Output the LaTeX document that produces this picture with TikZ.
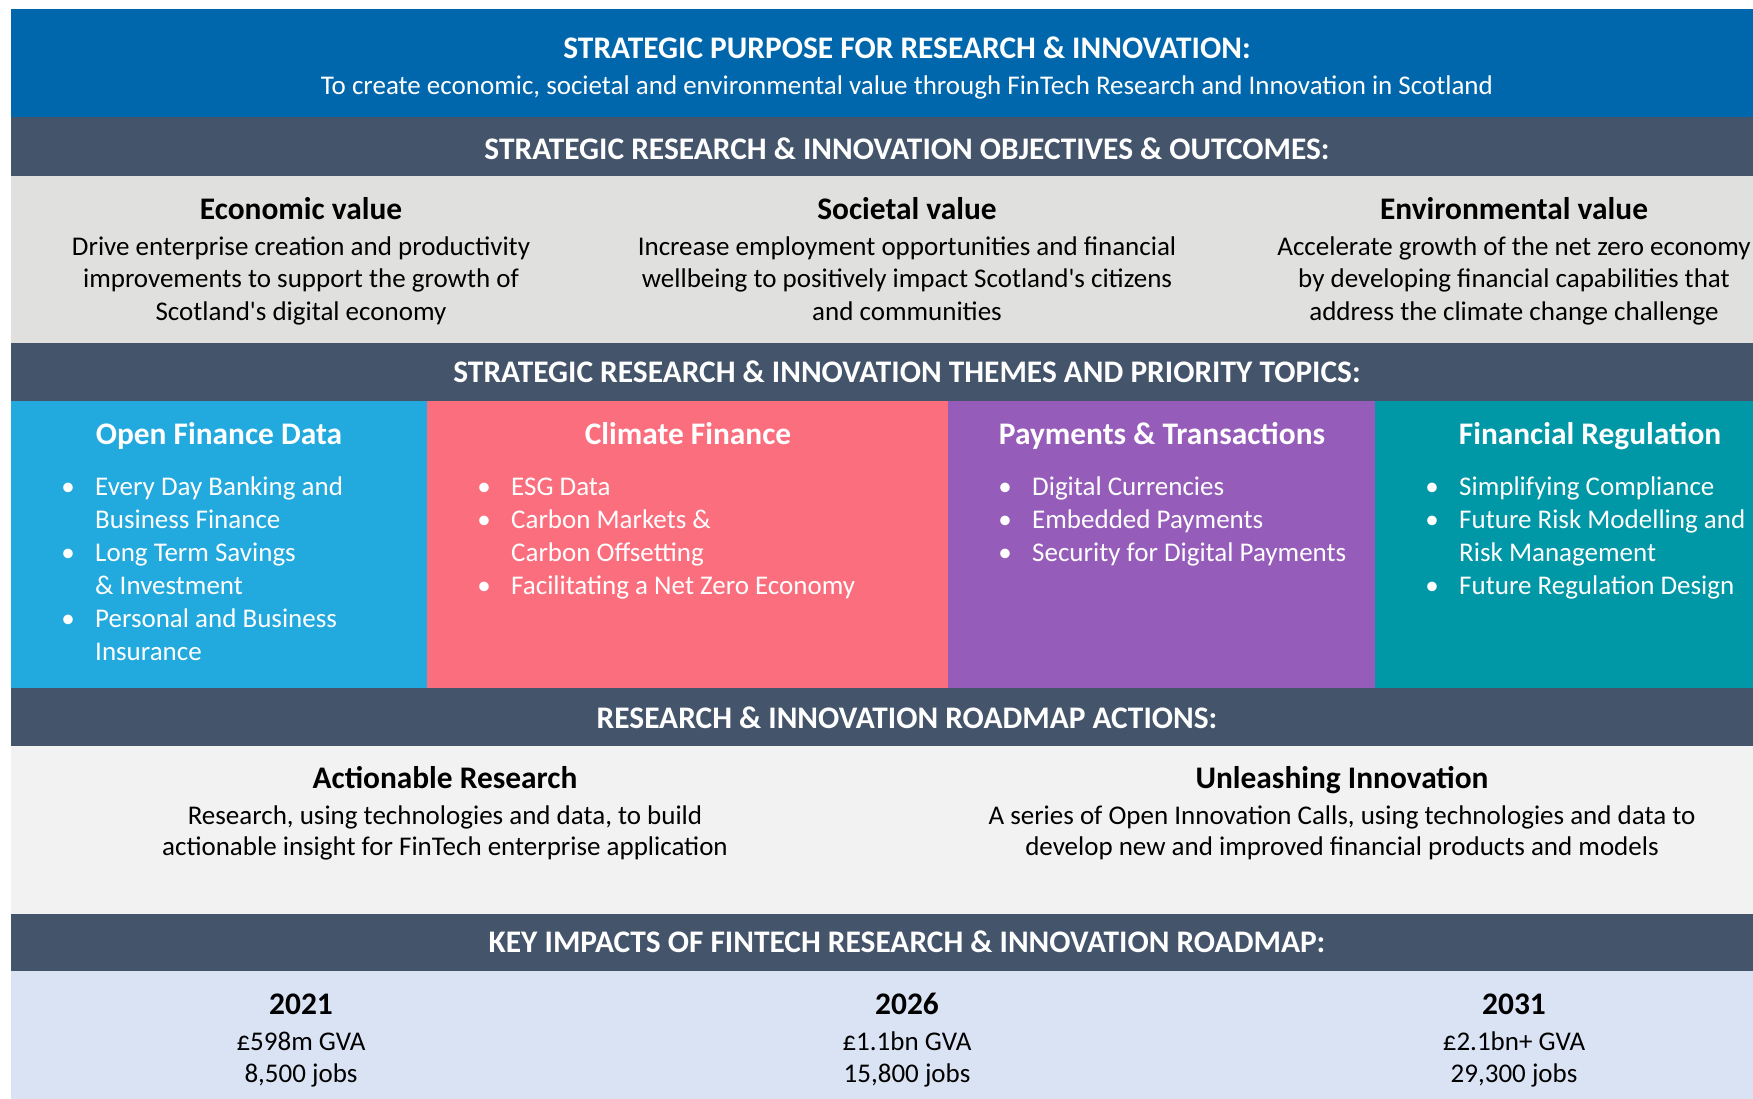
\documentclass[tikz,border=0pt]{standalone}
\usepackage{fontspec}
\setmainfont{Carlito}
\definecolor{purposeblue}{HTML}{0067AD}
\definecolor{bandgray}{HTML}{44546A}
\definecolor{objgray}{HTML}{E0E0DE}
\definecolor{themeblue}{HTML}{22A9DD}
\definecolor{themered}{HTML}{FB6E7D}
\definecolor{themepurple}{HTML}{965CBA}
\definecolor{themeteal}{HTML}{0097A7}
\definecolor{roadgray}{HTML}{F2F2F2}
\definecolor{impactblue}{HTML}{DAE3F3}
\begin{document}
\begin{tikzpicture}[x=1pt,y=-1pt,
  hd/.style={font=\fontsize{31.4}{38}\selectfont\bfseries, inner sep=0pt, anchor=mid},
  hdw/.style={hd, text=white},
  bd/.style={font=\fontsize{27}{32}\selectfont, inner sep=0pt, anchor=mid},
  bdw/.style={bd, text=white},
  bul/.style={bdw},
  itm/.style={bdw, anchor=mid west}]
\clip (0,0) rectangle (1753,1099);
\fill[white] (0,0) rectangle (1753,1099);
% bands
\fill[purposeblue] (11,9) rectangle (1753,117);
\fill[bandgray] (11,117) rectangle (1753,176);
\fill[objgray] (11,176) rectangle (1753,343);
\fill[bandgray] (11,343) rectangle (1753,401);
\fill[themeblue] (11,401) rectangle (427,688);
\fill[themered] (427,401) rectangle (948,688);
\fill[themepurple] (948,401) rectangle (1375,688);
\fill[themeteal] (1375,401) rectangle (1753,688);
\fill[bandgray] (11,688) rectangle (1753,746);
\fill[roadgray] (11,746) rectangle (1753,914);
\fill[bandgray] (11,914) rectangle (1753,971);
\fill[impactblue] (11,971) rectangle (1753,1099);
\begin{scope}[yshift=-8pt]
% purpose
\node[hdw] (ptitle) at (907,48) {STRATEGIC PURPOSE FOR RESEARCH \& INNOVATION:};
\node[bdw] (psub) at (907,84) {To create economic, societal and environmental value through FinTech Research and Innovation in Scotland};
\node[hdw] (band1) at (907,149) {STRATEGIC RESEARCH \& INNOVATION OBJECTIVES \& OUTCOMES:};
% objectives
\node[hd] (eco) at (301,209) {Economic value};
\node[bd] (eco1) at (301,245) {Drive enterprise creation and productivity};
\node[bd] (eco2) at (301,277) {improvements to support the growth of};
\node[bd] (eco3) at (301,310) {Scotland\textquotesingle s digital economy};
\node[hd] (soc) at (907,209) {Societal value};
\node[bd] (soc1) at (907,245) {Increase employment opportunities and financial};
\node[bd] (soc2) at (907,277) {wellbeing to positively impact Scotland\textquotesingle s citizens};
\node[bd] (soc3) at (907,310) {and communities};
\node[hd] (env) at (1514,209) {Environmental value};
\node[bd] (env1) at (1514,245) {Accelerate growth of the net zero economy};
\node[bd] (env2) at (1514,277) {by developing financial capabilities that};
\node[bd] (env3) at (1514,310) {address the climate change challenge};
\node[hdw] (band2) at (907,372) {STRATEGIC RESEARCH \& INNOVATION THEMES AND PRIORITY TOPICS:};
% theme: open finance
\node[hdw] (ofd) at (219,434) {Open Finance Data};
\node[bul] (ofdb1) at (68,485) {•};
\node[itm] (ofd1) at (95,485) {Every Day Banking and};
\node[itm] (ofd1b) at (95,518) {Business Finance};
\node[bul] (ofdb2) at (68,551) {•};
\node[itm] (ofd2) at (95,551) {Long Term Savings};
\node[itm] (ofd2b) at (95,584) {\& Investment};
\node[bul] (ofdb3) at (68,617) {•};
\node[itm] (ofd3) at (95,617) {Personal and Business};
\node[itm] (ofd3b) at (95,650) {Insurance};
% climate finance
\node[hdw] (clf) at (688,434) {Climate Finance};
\node[bul] (clfb1) at (484,485) {•};
\node[itm] (clf1) at (511,485) {ESG Data};
\node[bul] (clfb2) at (484,518) {•};
\node[itm] (clf2) at (511,518) {Carbon Markets \&};
\node[itm] (clf2b) at (511,551) {Carbon Offsetting};
\node[bul] (clfb3) at (484,584) {•};
\node[itm] (clf3) at (511,584) {Facilitating a Net Zero Economy};
% payments
\node[hdw] (pay) at (1162,434) {Payments \& Transactions};
\node[bul] (payb1) at (1005,485) {•};
\node[itm] (pay1) at (1032,485) {Digital Currencies};
\node[bul] (payb2) at (1005,518) {•};
\node[itm] (pay2) at (1032,518) {Embedded Payments};
\node[bul] (payb3) at (1005,551) {•};
\node[itm] (pay3) at (1032,551) {Security for Digital Payments};
% regulation
\node[hdw] (reg) at (1590,434) {Financial Regulation};
\node[bul] (regb1) at (1432,485) {•};
\node[itm] (reg1) at (1459,485) {Simplifying Compliance};
\node[bul] (regb2) at (1432,518) {•};
\node[itm] (reg2) at (1459,518) {Future Risk Modelling and};
\node[itm] (reg2b) at (1459,551) {Risk Management};
\node[bul] (regb3) at (1432,584) {•};
\node[itm] (reg3) at (1459,584) {Future Regulation Design};
% roadmap
\node[hdw] (band3) at (907,718) {RESEARCH \& INNOVATION ROADMAP ACTIONS:};
\node[hd] (act) at (445,778) {Actionable Research};
\node[bd] (act1) at (445,814) {Research, using technologies and data, to build};
\node[bd] (act2) at (445,845) {actionable insight for FinTech enterprise application};
\node[hd] (unl) at (1342,778) {Unleashing Innovation};
\node[bd] (unl1) at (1342,814) {A series of Open Innovation Calls, using technologies and data to};
\node[bd] (unl2) at (1342,845) {develop new and improved financial products and models};
% impacts
\node[hdw] (band4) at (907,942) {KEY IMPACTS OF FINTECH RESEARCH \& INNOVATION ROADMAP:};
\node[hd] (y21) at (301,1004) {2021};
\node[bd] (y21a) at (301,1040) {£598m GVA};
\node[bd] (y21b) at (301,1072) {8,500 jobs};
\node[hd] (y26) at (907,1004) {2026};
\node[bd] (y26a) at (907,1040) {£1.1bn GVA};
\node[bd] (y26b) at (907,1072) {15,800 jobs};
\node[hd] (y31) at (1514,1004) {2031};
\node[bd] (y31a) at (1514,1040) {£2.1bn+ GVA};
\node[bd] (y31b) at (1514,1072) {29,300 jobs};
\end{scope}
\end{tikzpicture}
\end{document}
